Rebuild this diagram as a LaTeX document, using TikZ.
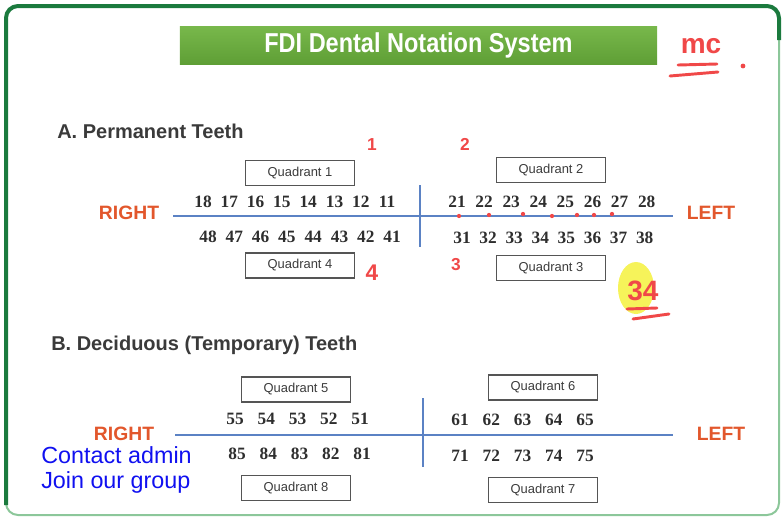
\documentclass[tikz,border=0pt]{standalone}
\usepackage{fontspec}
\setmainfont{Liberation Sans}
\newfontfamily\toothfont{Liberation Serif}
\newfontfamily\bannerfont[FakeStretch=0.86]{Liberation Sans}
\usetikzlibrary{positioning, shapes.geometric}
\definecolor{frameDark}{HTML}{1B7A3E}
\definecolor{frameLight}{HTML}{8CC79A}
\definecolor{bannerTop}{HTML}{78B84B}
\definecolor{bannerBot}{HTML}{5E9E35}
\definecolor{headText}{HTML}{3A3A3A}
\definecolor{sideText}{HTML}{E2572C}
\definecolor{axisBlue}{HTML}{5B82C4}
\definecolor{quadDraw}{HTML}{555555}
\definecolor{quadText}{HTML}{3C3C3C}
\definecolor{toothText}{HTML}{2E2E2E}
\definecolor{noteRed}{HTML}{F04848}
\definecolor{hiYellow}{HTML}{F6F35A}
\definecolor{linkBlue}{HTML}{1010F0}

\begin{document}
\begin{tikzpicture}[
  x=0.75pt, y=-0.75pt,
  banner/.style={rectangle, top color=bannerTop, bottom color=bannerBot, text=white,
                 minimum width=358pt, minimum height=29pt, inner sep=0pt,
                 font=\bannerfont\bfseries\fontsize{20.5}{24}\selectfont},
  head/.style={anchor=west, inner sep=0pt, text=headText,
               font=\bfseries\fontsize{15}{18}\selectfont},
  quad/.style={rectangle, draw=quadDraw, fill=white, line width=1.1pt, inner sep=0pt,
               minimum width=82pt, minimum height=19pt, text=quadText,
               font=\fontsize{9.7}{11}\selectfont},
  tooth/.style={inner sep=0pt, text=toothText, font=\toothfont\bfseries\fontsize{13}{15}\selectfont},
  side/.style={inner sep=0pt, text=sideText, font=\bfseries\fontsize{14.5}{17}\selectfont},
  axis/.style={draw=axisBlue, line width=1.5pt},
  note/.style={inner sep=0pt, text=noteRed, font=\bfseries\fontsize{13}{15}\selectfont},
  ink/.style={draw=noteRed, line width=2.2pt, line cap=round},
  link/.style={anchor=base west, inner sep=0pt, text=linkBlue, font=\fontsize{17.5}{21}\selectfont},
]
\useasboundingbox (0,0) rectangle (783,519);

% ---- Frame and banner ----
\draw[frameLight, line width=1.5pt, rounded corners=9pt] (6,6) rectangle (779,515);
\draw[frameDark, line width=3pt, rounded corners=9pt] (6,505) -- (6,6) -- (779,6) -- (779,40);
\node[banner] (title) at (418.5,45.5) {FDI Dental Notation System};

% ---- A: permanent teeth ----
\node[head] (headA) at (57,131) {A. Permanent Teeth};
\coordinate (aW) at (173,216);
\coordinate (aE) at (673,216);
\coordinate (aN) at (420,185);
\coordinate (aS) at (420,247);
\draw[axis] (aW) -- (aE);
\draw[axis] (aN) -- (aS);
\node[side] (rightA) at (129,213) {RIGHT};
\node[side] (leftA)  at (711,213) {LEFT};

\node[quad] (q1) at (300,173)   {Quadrant 1};
\node[quad] (q2) at (551,170)   {Quadrant 2};
\node[quad] (q4) at (300,265.5) {Quadrant 4};
\node[quad] (q3) at (551,268)   {Quadrant 3};

\foreach \n [count=\i from 0] in {18,17,16,15,14,13,12,11}
  \node[tooth] (t\n) at ({203+26.3*\i},202) {\n};
\foreach \n [count=\i from 0] in {48,47,46,45,44,43,42,41}
  \node[tooth] (t\n) at ({208+26.3*\i},237) {\n};
\foreach \n [count=\i from 0] in {21,22,23,24,25,26,27,28}
  \node[tooth] (t\n) at ({457+27.1*\i},202) {\n};
\foreach \n [count=\i from 0] in {31,32,33,34,35,36,37,38}
  \node[tooth] (t\n) at ({462+26.1*\i},238) {\n};

% ---- B: deciduous teeth ----
\node[head] (headB) at (51,345) {B. Deciduous (Temporary) Teeth};
\coordinate (bW) at (175,435);
\coordinate (bE) at (673,435);
\coordinate (bN) at (423,398);
\coordinate (bS) at (423,467);
\draw[axis] (bW) -- (bE);
\draw[axis] (bN) -- (bS);
\node[side] (rightB) at (124,433.5) {RIGHT};
\node[side] (leftB)  at (721,434) {LEFT};

\node[quad] (q5) at (296,389.5) {Quadrant 5};
\node[quad] (q6) at (543,387.5) {Quadrant 6};
\node[quad] (q8) at (296,488)   {Quadrant 8};
\node[quad] (q7) at (543,490)   {Quadrant 7};

\foreach \n [count=\i from 0] in {55,54,53,52,51}
  \node[tooth] (t\n) at ({235+31.25*\i},419) {\n};
\foreach \n [count=\i from 0] in {85,84,83,82,81}
  \node[tooth] (t\n) at ({237+31.25*\i},454) {\n};
\foreach \n [count=\i from 0] in {61,62,63,64,65}
  \node[tooth] (t\n) at ({460+31.25*\i},420) {\n};
\foreach \n [count=\i from 0] in {71,72,73,74,75}
  \node[tooth] (t\n) at ({460+31.25*\i},456) {\n};

% ---- Red handwritten marks ----
\node[note, font=\bfseries\fontsize{21}{24}\selectfont] (mc) at (701,46) {mc};
\draw[ink] (678,65) -- (717,64);
\draw[ink] (670,76) -- (718,72);
\fill[noteRed] (743,66) circle (1.8pt);

\node[note] (n1) at (372,145) {1};
\node[note] (n2) at (465,144) {2};
\node[note, font=\bfseries\fontsize{17}{20}\selectfont] (n4) at (372,273) {4};
\node[note] (n3) at (456,265) {3};

\foreach \x/\y in {459/216, 489/215, 523/214, 552/216, 577/215, 594/215, 612/214}
  \fill[noteRed] (\x,\y) circle (1.6pt);

\node[ellipse, fill=hiYellow, minimum width=27pt, minimum height=39pt, inner sep=0pt] (hl) at (636,288) {};
\node[note, font=\bfseries\fontsize{21}{24}\selectfont] (n34) at (643,291) {34};
\draw[ink] (627,309) -- (657,308);
\draw[ink] (633,319) -- (669,314);

% ---- Blue overlay text ----
\node[link] (contact) at (41,463) {Contact admin};
\node[link] (join)    at (41,488) {Join our group};

\end{tikzpicture}
\end{document}
